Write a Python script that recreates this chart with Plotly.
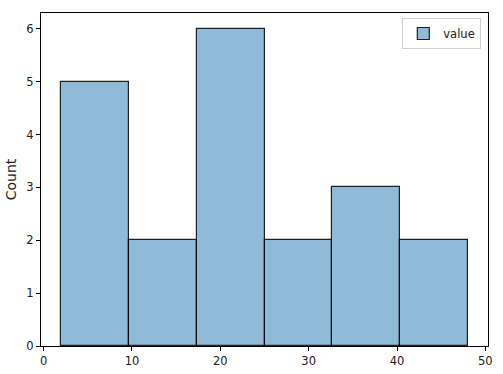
import plotly.graph_objects as go

bin_edges = [2.0, 9.667, 17.333, 25.0, 32.667, 40.333, 48.0]
counts = [5, 2, 6, 2, 3, 2]
series_name = "value"
x_ticks = [0, 10, 20, 30, 40, 50]
y_ticks = [0, 1, 2, 3, 4, 5, 6]

centers = [(a + b) / 2 for a, b in zip(bin_edges[:-1], bin_edges[1:])]
widths = [b - a for a, b in zip(bin_edges[:-1], bin_edges[1:])]

fig = go.Figure()
fig.add_trace(go.Bar(
    x=centers, y=counts, width=widths, name=series_name,
    marker=dict(color="rgba(31,119,180,0.5)", line=dict(color="rgba(0,0,0,0.85)", width=1.2)),
    showlegend=True,
))

font = dict(family="DejaVu Sans", size=11.5, color="#222")
fig.update_layout(
    width=503, height=374,
    margin=dict(l=41, r=15, t=13, b=28),
    plot_bgcolor="white", paper_bgcolor="white",
    font=font,
    bargap=0,
    showlegend=True,
    legend=dict(x=0.985, y=0.985, xanchor="right", yanchor="top",
                bordercolor="#d0d0d0", borderwidth=1, bgcolor="rgba(255,255,255,0.8)",
                font=dict(family="DejaVu Sans", size=11.5, color="#222")),
    xaxis=dict(range=[-0.3, 50.3], tickvals=x_ticks, ticks="outside", ticklen=4,
               tickcolor="black", showline=True, linecolor="black", linewidth=1,
               mirror=True, showgrid=False, zeroline=False, automargin=False),
    yaxis=dict(range=[0, 6.3], tickvals=y_ticks, ticks="outside", ticklen=4,
               tickcolor="black", showline=True, linecolor="black", linewidth=1,
               mirror=True, showgrid=False, zeroline=False, automargin=False,
               title=dict(text="Count", standoff=6, font=dict(color="#222"))),
)
fig.write_html("out.html")
